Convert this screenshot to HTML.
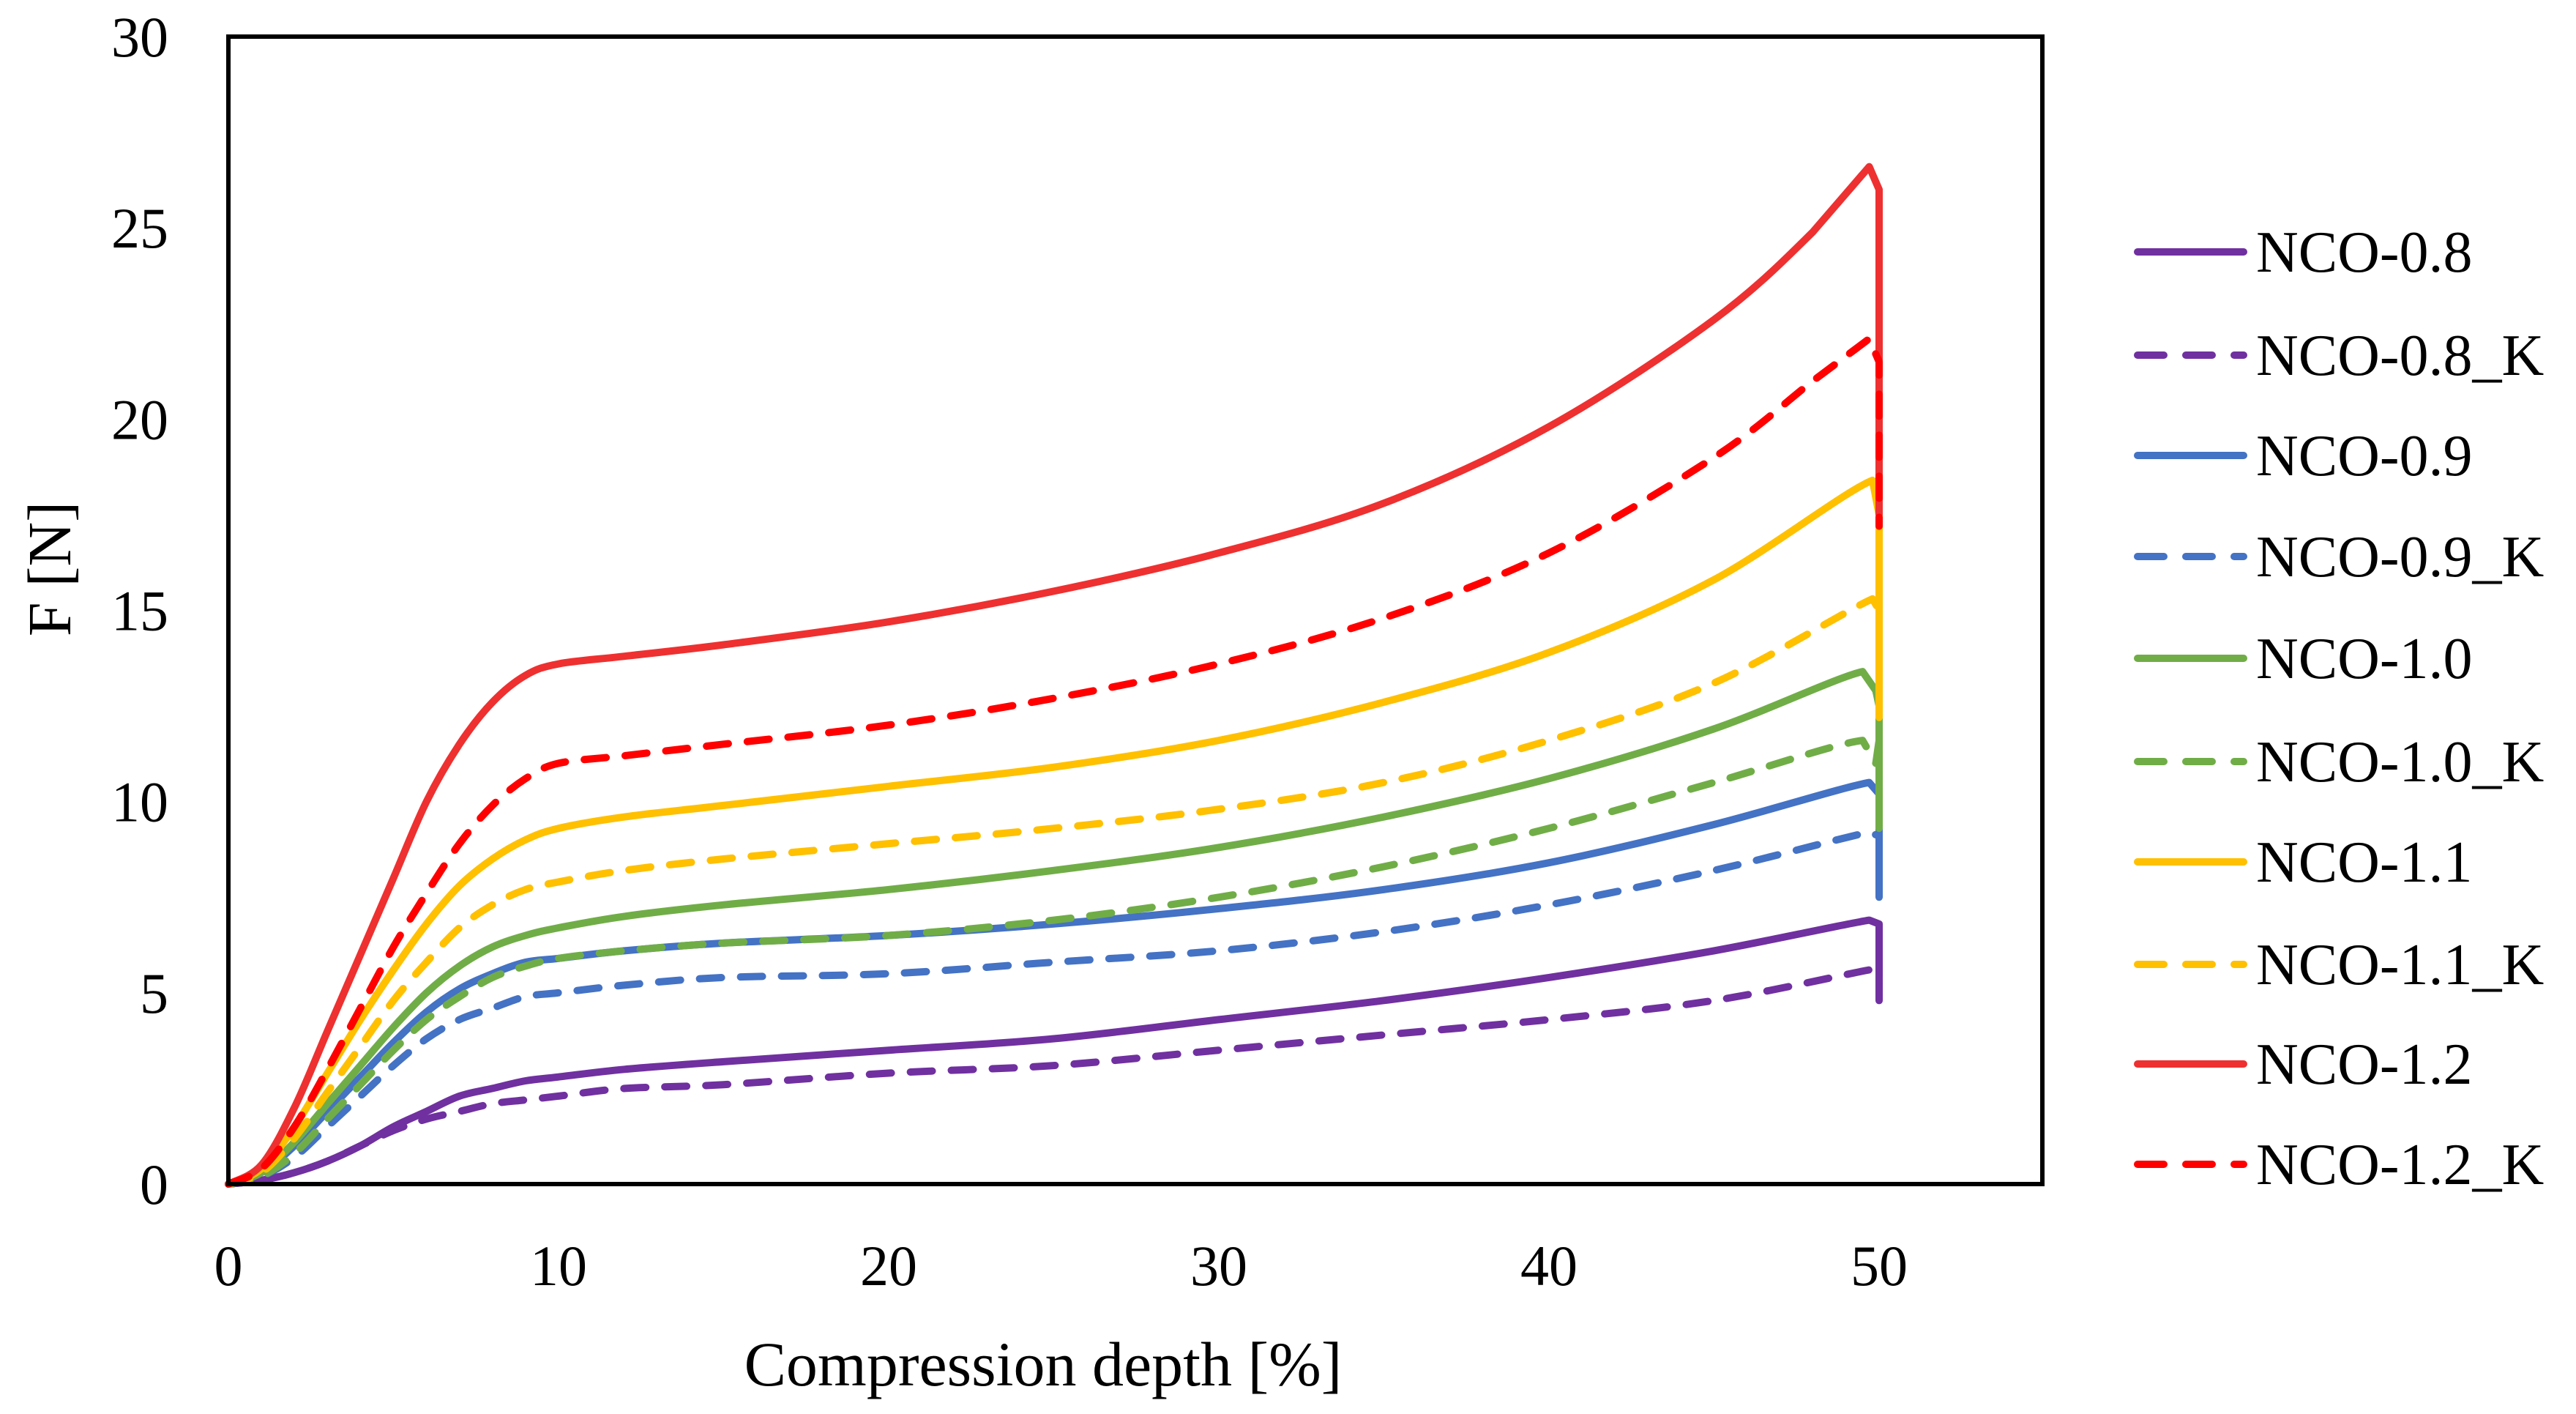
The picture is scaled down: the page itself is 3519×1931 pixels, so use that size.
<!DOCTYPE html>
<html><head><meta charset="utf-8"><style>
html,body{margin:0;padding:0;background:#fff;}
svg{display:block;font-family:"Liberation Serif",serif;}
</style></head><body>
<svg id="chart" width="3519" height="1931" viewBox="0 0 3519 1931" xmlns="http://www.w3.org/2000/svg">
<rect width="3519" height="1931" fill="#fff"/>
<g id="series"></g>
<rect x="312" y="50" width="2478" height="1567" fill="none" stroke="#000" stroke-width="6"/>
<g id="yticks"></g>
<g id="xticks"></g>
<text x="1425" y="1892" font-size="86" text-anchor="middle">Compression depth [%]</text>
<text x="0" y="0" font-size="84" text-anchor="middle" transform="translate(96,777) rotate(-90)">F [N]</text>
<g id="legend"></g>
</svg>
<script>
const xTicks=[0,10,20,30,40,50];
const yTicks=[0,5,10,15,20,25,30];
const seriesNames=["NCO-0.8","NCO-0.8_K","NCO-0.9","NCO-0.9_K","NCO-1.0","NCO-1.0_K","NCO-1.1","NCO-1.1_K","NCO-1.2","NCO-1.2_K"];
const seriesColors=["#7030a0","#7030a0","#4472c4","#4472c4","#70ad47","#70ad47","#ffc000","#ffc000","#ee3030","#ff0000"];
const seriesDashed=[false,true,false,true,false,true,false,true,false,true];
const xs08=[0,1,2,3,4,5,6,7,8,9,10,12,15,20,25,30,35,40,45,49.7,50,50];
const ys08=[0,0.1,0.3,0.6,1,1.5,1.9,2.3,2.5,2.7,2.8,3,3.2,3.5,3.8,4.3,4.8,5.4,6.1,6.9,6.8,5.4];
const xs08K=[0,1,2,3,4,5,6,7,8,9,10,12,15,20,25,30,35,40,45,49.7,50,50];
const ys08K=[0,0.1,0.3,0.6,1,1.4,1.7,1.9,2.1,2.2,2.3,2.5,2.6,2.9,3.1,3.5,3.9,4.3,4.8,5.6,5.6,4.6];
const xs09=[0,1,2,3,4,5,6,7,8,9,10,12,15,20,25,30,35,40,45,49.7,50,50];
const ys09=[0,0.3,1,1.9,2.8,3.7,4.5,5.1,5.5,5.8,5.9,6.1,6.3,6.5,6.8,7.2,7.7,8.4,9.4,10.5,10.2,7.5];
const xs09K=[0,1,2,3,4,5,6,7,8,9,10,12,15,20,25,30,35,40,45,49.7,50,50];
const ys09K=[0,0.2,0.7,1.5,2.3,3.1,3.8,4.3,4.6,4.9,5,5.2,5.4,5.5,5.8,6.1,6.6,7.3,8.2,9.2,9.1,7.5];
const xs10=[0,1,2,3,4,5,6,7,8,9,10,12,15,20,25,30,35,40,45,49.5,49.9,50,50];
const ys10=[0,0.3,1.1,2.1,3.1,4.1,5,5.7,6.2,6.5,6.7,7,7.3,7.7,8.2,8.8,9.6,10.6,11.9,13.4,12.9,12.5,9.3];
const xs10K=[0,1,2,3,4,5,6,7,8,9,10,12,15,20,25,30,35,40,45,49.5,49.9,50,50];
const ys10K=[0,0.2,0.8,1.7,2.6,3.5,4.3,4.9,5.4,5.7,5.9,6.1,6.3,6.5,6.9,7.5,8.3,9.3,10.5,11.6,11,11.6,10];
const xs11=[0,1,2,3,4,5,6,7,8,9,10,12,15,20,25,30,35,40,45,49.8,50,50];
const ys11=[0,0.4,1.5,2.9,4.3,5.6,6.8,7.8,8.5,9,9.3,9.6,9.9,10.4,10.9,11.6,12.6,13.9,15.8,18.4,17.5,12.3];
const xs11K=[0,1,2,3,4,5,6,7,8,9,10,12,15,20,25,30,35,40,45,49.8,50,50];
const ys11K=[0,0.3,1.2,2.4,3.6,4.8,5.8,6.7,7.3,7.7,7.9,8.2,8.5,8.9,9.3,9.8,10.5,11.6,13.1,15.3,15,12.2];
const xs12=[0,1,2,3,4,5,6,7,8,9,10,12,15,20,25,30,35,40,45,48,49.7,50,50];
const ys12=[0,0.5,2,4,6,8,10,11.5,12.6,13.3,13.6,13.8,14.1,14.7,15.5,16.5,17.8,19.8,22.6,24.9,26.6,26,17.5];
const xs12K=[0,1,2,3,4,5,6,7,8,9,10,12,15,20,25,30,35,40,45,48,49.7,50,50];
const ys12K=[0,0.4,1.5,3,4.6,6.2,7.6,8.9,9.9,10.6,11,11.2,11.5,12,12.7,13.6,14.8,16.5,19,21,22.1,21.5,17.2];
const seriesX=[xs08,xs08K,xs09,xs09K,xs10,xs10K,xs11,xs11K,xs12,xs12K];
const seriesY=[ys08,ys08K,ys09,ys09K,ys10,ys10K,ys11,ys11K,ys12,ys12K];

const NS="http://www.w3.org/2000/svg";
const X0=312,X1=2567,Y0=1617,Y1=50;
function xScale(v){return X0+(v/50)*(X1-X0);}
function yScale(v){return Y0-(v/30)*(Y0-Y1);}
function mk(t){return document.createElementNS(NS,t);}

const yt=document.getElementById('yticks');
yTicks.forEach(v=>{const t=mk('text');


t.setAttribute('x',230);t.setAttribute('y',yScale(v)+27);t.setAttribute('font-size','78');t.setAttribute('text-anchor','end');t.textContent=v;yt.appendChild(t);});
const xt=document.getElementById('xticks');
xTicks.forEach(v=>{const t=mk('text');


t.setAttribute('x',xScale(v));t.setAttribute('y',1755);t.setAttribute('font-size','78');t.setAttribute('text-anchor','middle');t.textContent=v;xt.appendChild(t);});

function pathFor(xa,ya){
  const p=xa.map((x,i)=>[xScale(x),yScale(ya[i])]);
  let d='M'+p[0][0].toFixed(1)+','+p[0][1].toFixed(1);
  for(let i=0;i<p.length-1;i++){
    const a=p[Math.max(0,i-1)],b=p[i],c=p[i+1],e=p[Math.min(p.length-1,i+2)];
    const k=(xa[i]>=47.5)?0:1/6;
    const c1=[b[0]+(c[0]-a[0])*k,b[1]+(c[1]-a[1])*k];
    const c2=[c[0]-(e[0]-b[0])*k,c[1]-(e[1]-b[1])*k];
    d+=' C'+c1[0].toFixed(1)+','+c1[1].toFixed(1)+' '+c2[0].toFixed(1)+','+c2[1].toFixed(1)+' '+c[0].toFixed(1)+','+c[1].toFixed(1);
  }
  return d;
}
const sg=document.getElementById('series');
const lg=document.getElementById('legend');
const legendY=[344,485,622,760,899,1040,1177,1317,1453,1590];
seriesNames.forEach((n,i)=>{
  const p=mk('path');
  
  
  p.setAttribute('d',pathFor(seriesX[i],seriesY[i]));
  p.setAttribute('fill','none');p.setAttribute('stroke',seriesColors[i]);p.setAttribute('stroke-width','10');
  p.setAttribute('stroke-linejoin','round');p.setAttribute('stroke-linecap','round');
  if(seriesDashed[i])p.setAttribute('stroke-dasharray','30 26');
  sg.appendChild(p);
  const ly=legendY[i];
  const l=mk('line');
  
  
  l.setAttribute('x1',2920);l.setAttribute('x2',3065);l.setAttribute('y1',ly);l.setAttribute('y2',ly);
  l.setAttribute('stroke',seriesColors[i]);l.setAttribute('stroke-width','10');l.setAttribute('stroke-linecap','round');
  if(seriesDashed[i])l.setAttribute('stroke-dasharray','36 30');
  lg.appendChild(l);
  const t=mk('text');
  
  
  t.setAttribute('x',3082);t.setAttribute('y',ly+27);t.setAttribute('font-size','80');t.textContent=n;
  lg.appendChild(t);
});
</script>
</body></html>
